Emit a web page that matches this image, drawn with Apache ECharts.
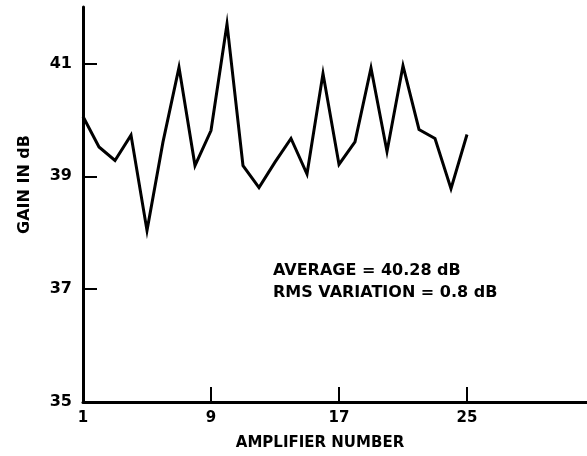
<!DOCTYPE html>
<html>
<head>
<meta charset="utf-8">
<script src="https://cdn.jsdelivr.net/npm/echarts@6/dist/echarts.min.js"></script>
<style>
html,body{margin:0;padding:0;background:#fff;}
#chart{width:587px;height:456px;}
</style>
</head>
<body>
<div id="chart"></div>
<script>
var amplifiers = [1,2,3,4,5,6,7,8,9,10,11,12,13,14,15,16,17,18,19,20,21,22,23,24,25];
var gains = [40.06,39.52,39.28,39.73,38.04,39.61,40.93,39.19,39.81,41.70,39.19,38.80,39.25,39.67,39.04,40.82,39.21,39.61,40.92,39.44,40.96,39.83,39.67,38.78,39.74];
var xTicks = [1,9,17,25];
var yTicks = [35,37,39,41];
var notes = ['AVERAGE = 40.28 dB', 'RMS VARIATION = 0.8 dB'];

var font = 'DejaVu Sans';
var chart = echarts.init(document.getElementById('chart'), null, {renderer:'canvas'});
chart.setOption({
  animation:false,
  backgroundColor:'#fff',
  grid:{left:83, top:7, right:0, bottom:54},
  xAxis:{
    type:'value', min:1, max:32.5,
    name:'AMPLIFIER NUMBER', nameLocation:'middle', nameGap:34,
    nameTextStyle:{color:'#000', fontFamily:font, fontWeight:'bold', fontSize:15, padding:[0,30,0,0]},
    axisLine:{show:true, lineStyle:{color:'#000', width:3}},
    axisTick:{show:true, inside:true, length:15, lineStyle:{color:'#000', width:2}, customValues:[9,17,25]},
    axisLabel:{color:'#000', fontFamily:font, fontWeight:'bold', fontSize:15, margin:9, customValues:xTicks},
    splitLine:{show:false}
  },
  yAxis:{
    type:'value', min:35, max:42,
    name:'GAIN IN dB', nameLocation:'middle', nameGap:50, nameRotate:90,
    nameTextStyle:{color:'#000', fontFamily:font, fontWeight:'bold', fontSize:16, padding:[0,0,0,40]},
    axisLine:{show:true, lineStyle:{color:'#000', width:3}},
    axisTick:{show:true, inside:true, length:14, lineStyle:{color:'#000', width:2}, customValues:[37,39,41]},
    axisLabel:{color:'#000', fontFamily:font, fontWeight:'bold', fontSize:16, margin:11, customValues:yTicks},
    splitLine:{show:false}
  },
  graphic:[
    {type:'text', left:273, top:263, style:{text:notes[0], fill:'#000', font:'bold 16px "DejaVu Sans"'}},
    {type:'text', left:273, top:285, style:{text:notes[1], fill:'#000', font:'bold 16px "DejaVu Sans"'}}
  ],
  series:[{
    type:'line',
    data:amplifiers.map(function(a,i){return [a, gains[i]];}),
    showSymbol:false, symbol:'none',
    lineStyle:{color:'#000', width:3, join:'miter'}
  }]
});
</script>
</body>
</html>
